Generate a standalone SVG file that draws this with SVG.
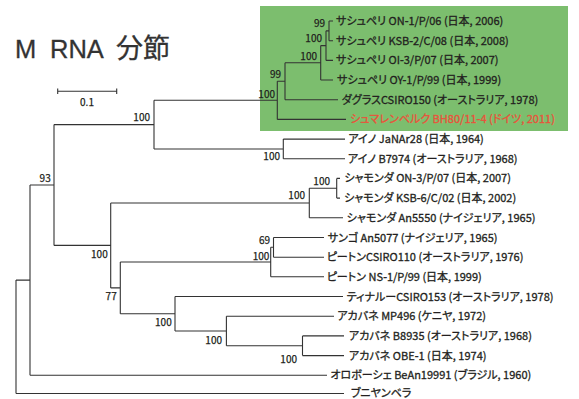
<svg xmlns="http://www.w3.org/2000/svg" width="579" height="399" viewBox="0 0 579 399">
<style>
.lbl{font-family:"Noto Sans CJK JP","Noto Sans",sans-serif;font-size:11px;fill:#231f20;stroke:#231f20;stroke-width:0.3;font-feature-settings:"palt" 1;}
.red{fill:#e9523b;stroke:#e9523b;}
.bs{font-family:"Noto Sans CJK JP","Noto Sans",sans-serif;font-size:10px;fill:#231f20;stroke:#231f20;stroke-width:0.25;text-anchor:end;}
.ln{fill:none;stroke:#333;stroke-width:1.1;}
.title{font-family:"Liberation Sans","Noto Sans CJK JP",sans-serif;font-size:25.5px;fill:#333;stroke:#333;stroke-width:0.3;}
</style>
<rect x="0" y="0" width="579" height="399" fill="#fff"/>
<rect id="highlight" x="260" y="6" width="308" height="125" fill="#7cbe6e"/>
<text class="title" x="15" y="58">M<tspan x="50">RNA</tspan><tspan x="116" style="font-family:'Noto Sans CJK JP',sans-serif;font-size:27px">分節</tspan></text>
<g id="scalebar">
<path class="ln" d="M57.7 91.3H116.7M57.7 88.5V94.1M116.7 88.5V94.1"/>
<text class="bs" x="87" y="106" style="text-anchor:middle">0.1</text>
</g>
<g id="connectors">
<path class="ln" d="M16 280.1V393.5M16 280.1H30M16 393.5H344
M30 185V375.2M30 185H54M30 375.2H327
M54 124.6V245.4M54 124.6H154M54 245.4H110.7
M154 100.3V149M154 100.3H277.3M154 149H283.3
M277.3 81.3V119.4M277.3 81.3H285M277.3 119.4H346
M285 62.8V99.7M285 62.8H320.7M285 99.7H338
M320.7 45.6V80M320.7 45.6H326M320.7 80H333
M326 30.85V60.4M326 30.85H329M326 60.4H333
M329 21V40.7M329 21H333M329 40.7H333
M283.3 139.1V158.8M283.3 139.1H345M283.3 158.8H345
M110.7 203V287.9M110.7 203H309.3M110.7 287.9H120.3
M309.3 188.3V217.8M309.3 188.3H336.7M309.3 217.8H343
M336.7 178.4V198.1M336.7 178.4H340M336.7 198.1H340
M120.3 262V313.7M120.3 262H270.7M120.3 313.7H175
M270.7 247.3V276.8M270.7 247.3H273.5M270.7 276.8H324
M273.5 237.5V257.2M273.5 237.5H324M273.5 257.2H324
M175 296.5V331M175 296.5H343M175 331H226.4
M226.4 316.2V345.7M226.4 316.2H334M226.4 345.7H302.5
M302.5 335.9V355.6M302.5 335.9H344M302.5 355.6H344"/>
</g>
<g id="support">
<text class="bs" x="325" y="27">99</text>
<text class="bs" x="322" y="42">100</text>
<text class="bs" x="317" y="59.5">100</text>
<text class="bs" x="281" y="77.5">99</text>
<text class="bs" x="275" y="97.5">100</text>
<text class="bs" x="150" y="121">100</text>
<text class="bs" x="280" y="160">100</text>
<text class="bs" x="330" y="185">100</text>
<text class="bs" x="305" y="199">100</text>
<text class="bs" x="270" y="243.5">69</text>
<text class="bs" x="269.3" y="260">100</text>
<text class="bs" x="50.7" y="181.8">93</text>
<text class="bs" x="107.7" y="257.5">100</text>
<text class="bs" x="116.7" y="299.5">77</text>
<text class="bs" x="171.7" y="326">100</text>
<text class="bs" x="222" y="343.5">100</text>
<text class="bs" x="297" y="362.5">100</text>
</g>
<g id="t_sathuperi_on1"><text class="lbl" x="336" y="25">サシュペリ ON-1/P/06 (日本, 2006)</text></g>
<g id="t_sathuperi_ksb2"><text class="lbl" x="336" y="44.7">サシュペリ KSB-2/C/08 (日本, 2008)</text></g>
<g id="t_sathuperi_oi3"><text class="lbl" x="336" y="64.4">サシュペリ OI-3/P/07 (日本, 2007)</text></g>
<g id="t_sathuperi_oy1"><text class="lbl" x="337" y="84">サシュペリ OY-1/P/99 (日本, 1999)</text></g>
<g id="t_douglas"><text class="lbl" x="341.7" y="103.7">ダグラスCSIRO150 (オーストラリア, 1978)</text></g>
<g id="t_schmallenberg"><text class="lbl red" x="350" y="123.4">シュマレンベルク BH80/11-4 (ドイツ, 2011)</text></g>
<g id="t_aino_ja"><text class="lbl" x="348.3" y="143.1">アイノ JaNAr28 (日本, 1964)</text></g>
<g id="t_aino_b"><text class="lbl" x="348" y="162.8">アイノ B7974 (オーストラリア, 1968)</text></g>
<g id="t_shamonda_on3"><text class="lbl" x="344.3" y="182.4">シャモンダ ON-3/P/07 (日本, 2007)</text></g>
<g id="t_shamonda_ksb6"><text class="lbl" x="344" y="202.1">シャモンダ KSB-6/C/02 (日本, 2002)</text></g>
<g id="t_shamonda_an"><text class="lbl" x="346.7" y="221.8">シャモンダ An5550 (ナイジェリア, 1965)</text></g>
<g id="t_sango"><text class="lbl" x="327.7" y="241.5">サンゴ An5077 (ナイジェリア, 1965)</text></g>
<g id="t_peaton_cs"><text class="lbl" x="326.7" y="261.2">ピートンCSIRO110 (オーストラリア, 1976)</text></g>
<g id="t_peaton_ns"><text class="lbl" x="326.7" y="280.8">ピートン NS-1/P/99 (日本, 1999)</text></g>
<g id="t_tinaroo"><text class="lbl" x="346.7" y="300.5">ティナルーCSIRO153 (オーストラリア, 1978)</text></g>
<g id="t_akabane_mp"><text class="lbl" x="337.3" y="320.2">アカバネ MP496 (ケニヤ, 1972)</text></g>
<g id="t_akabane_b"><text class="lbl" x="349" y="339.9">アカバネ B8935 (オーストラリア, 1968)</text></g>
<g id="t_akabane_obe"><text class="lbl" x="349" y="359.6">アカバネ OBE-1 (日本, 1974)</text></g>
<g id="t_oropouche"><text class="lbl" x="330.4" y="379.2">オロボーシェ BeAn19991 (ブラジル, 1960)</text></g>
<g id="t_bunyamwera"><text class="lbl" x="350.8" y="397.3">ブニヤンベラ</text></g>
</svg>
